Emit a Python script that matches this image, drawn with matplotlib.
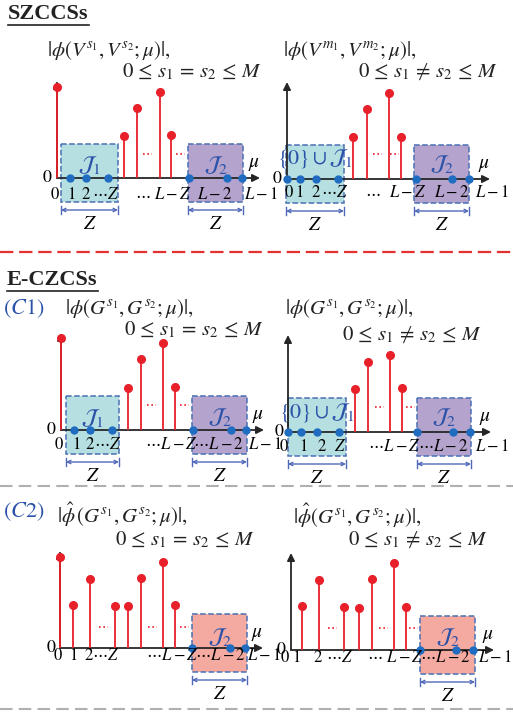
import numpy as np
import matplotlib.pyplot as plt
from matplotlib.patches import Rectangle

plt.rcParams['mathtext.fontset'] = 'stix'
plt.rcParams['font.family'] = ['STIXGeneral', 'DejaVu Sans']

### Data (px offsets from each panel's origin)
# stem offsets right of the y axis, and stem heights
tl_dx = [0, 67, 80, 103, 114]
tl_h = [91, 42, 70, 86, 43]
tr_dx = [66, 80, 102, 114]
tr_h = [42, 70, 86, 42]
ml_dx = [0, 67, 80, 102, 114]
ml_h = [92, 42, 71, 87, 43]
mr_dx = [67, 80, 102, 114]
mr_h = [43, 70, 77, 44]
bl_dx = [0, 13, 30, 55, 68, 81, 103, 115]
bl_h = [91, 43, 69, 42, 42, 70, 86, 43]
br_dx = [11, 28, 53, 68, 81, 103, 115]
br_h = [44, 70, 43, 42, 71, 87, 43]

# blue dots on the axis (zero-correlation positions)
left_dots = [13, 29, 51, 132, 170, 185]
right_dots = [0, 13, 29, 51, 129, 165, 182]
left_dots_c2 = [132, 170, 185]
right_dots_c2 = [129, 165, 182]

# red "..." between stems
ell_top = [86, 119]
ell_topr = [86, 103]
ell_c2 = [39, 88, 120]

# tick labels
tl_ticks = ['$0$', '$1$', '$2$', r'$\cdots Z$', r'$\cdots$', '$L-Z$', '$L-2$', '$L-1$']
tl_tdx = [-2, 14, 29, 49, 86, 116, 158, 204]
tr_ticks = ['$0$', '$1$', '$2$', r'$\cdots Z$', r'$\cdots$', '$L-Z$', '$L-2$', '$L-1$']
tr_tdx = [2, 12, 29, 48, 86, 121, 165, 205]
ml_ticks = ['$0$', '$1$', '$2$', r'$\cdots Z$', r'$\cdots L-Z$', r'$\cdots L-2$', '$L-1$']
ml_tdx = [-2, 15, 29, 47, 110, 157, 204]
mr_ticks = ['$0$', '$1$', '$2$', '$Z$', r'$\cdots L-Z\cdots$', '$L-2$', '$L-1$']
mr_tdx = [-4, 15, 34, 52, 113, 163, 204]
bl_ticks = ['$0$', '$1$', '$2$', r'$\cdots Z$', r'$\cdots L-Z$', r'$\cdots L-2$', '$L-1$']
bl_tdx = [-2, 13, 29, 46, 112, 160, 204]
br_ticks = ['$0$', '$1$', '$2$', r'$\cdots Z$', r'$\cdots\ L-Z$', r'$\cdots L-2$', '$L-1$']
br_tdx = [-6, 5, 27, 49, 104, 154, 204]

RED = '#e8202a'
BLUE = '#1f6cc0'
AX = '#262626'
TEAL = '#b5dfe0'
PURPLE = '#b4a3cc'
PINK = '#f5aaa1'
EDGE = '#4a70b5'
JCOL = '#2b52a8'
BRK = '#5068b8'

fig = plt.figure(figsize=(5.13, 7.13), dpi=100)
ax = fig.add_axes([0, 0, 1, 1])
ax.set_xlim(0, 513)
ax.set_ylim(713, 0)
ax.axis('off')


def arrow(x0, y0, x1, y1, color=AX, lw=1.3, style='-|>', ms=11):
    ax.annotate('', xy=(x1, y1), xytext=(x0, y0),
                arrowprops=dict(arrowstyle=style, color=color, lw=lw,
                                mutation_scale=ms, shrinkA=0, shrinkB=0), zorder=3)


def bracket(x0, x1, y):
    arrow(x0, y, x1, y, color=BRK, lw=1.0, style='<->', ms=6)
    ax.plot([x0, x0], [y - 4, y + 4], color=BRK, lw=1.0)
    ax.plot([x1, x1], [y - 4, y + 4], color=BRK, lw=1.0)


def box(x0, x1, y0, y1, fc, label, ly):
    ax.add_patch(Rectangle((x0, y0), x1 - x0, y1 - y0, facecolor=fc,
                           edgecolor=EDGE, ls='--', lw=1.1, zorder=1))
    ax.text((x0 + x1) / 2, ly, label, color=JCOL, fontsize=16,
            ha='center', va='center', zorder=2)


def panel(ox, oy, dx, h, dots, ell, ell_dy, ticks, tdx, tdy, boxes):
    for (x0, x1, fc, lab, ldy) in boxes:
        box(ox + x0, ox + x1, oy - 34, oy + 24, fc, lab, oy + ldy)
        bracket(ox + x0, ox + x1, oy + 32)
        ax.text(ox + (x0 + x1) / 2, oy + 46, '$Z$', fontsize=14,
                ha='center', va='center')
    arrow(ox, oy, ox + 203, oy)
    arrow(ox, oy, ox, oy - 97)
    ax.text(ox + 197, oy - 14, r'$\mu$', fontsize=14, ha='center', va='center')
    ax.text(ox - 4, oy, '$0$', fontsize=13, ha='right', va='center')
    xs = ox + np.array(dx)
    ax.vlines(xs, oy, oy - np.array(h), color=RED, lw=1.3, zorder=4)
    ax.plot(xs, oy - np.array(h), 'o', ms=5.5, color=RED, zorder=4)
    for e in ell:
        ax.plot([ox + e, ox + e + 9], [oy - ell_dy] * 2, color=RED, lw=1.2,
                ls=(0, (1, 1.6)), zorder=4)
    ax.plot(ox + np.array(dots), [oy] * len(dots), 'o', ms=5, color=BLUE, zorder=5)
    for lab, t in zip(ticks, tdx):
        ax.text(ox + t, oy + tdy, lab, fontsize=12, ha='center', va='center', zorder=6)


def title(x, y, s):
    t = ax.text(x, y, s, fontsize=16, fontweight='bold', family='Liberation Serif',
                ha='left', va='center', color='#222222')
    return t


def formula(x, y, s):
    ax.text(x, y, s, fontsize=15, va='center', color='#222222')


j1 = r'$\mathcal{J}_1$'
j2 = r'$\mathcal{J}_2$'
j01 = r'$\{0\}\cup\mathcal{J}_1$'
eq = r'$0\,\leq\,s_1\,=\,s_2\,\leq\,M$'
neq = r'$0\,\leq\,s_1\,\neq\,s_2\,\leq\,M$'

### SZCCSs
t1 = title(8, 14, 'SZCCSs')
formula(47, 50, r'$|\phi(V^{s_1},V^{s_2};\mu)|,$')
formula(122, 72, eq)
formula(283, 50, r'$|\phi(V^{m_1},V^{m_2};\mu)|,$')
formula(358, 72, neq)
panel(57, 178, tl_dx, tl_h, left_dots, ell_top, 24, tl_ticks, tl_tdx, 17,
      [(4, 61, TEAL, j1, -13), (131, 186, PURPLE, j2, -13)])
panel(287, 179, tr_dx, tr_h, right_dots, ell_topr, 25, tr_ticks, tr_tdx, 14,
      [(-1, 57, TEAL, j01, -21), (127, 182, PURPLE, j2, -15)])

ax.plot([0, 513], [252, 252], color='#e53030', lw=1.6, ls=(0, (6, 2.6)))

### E-CZCSs
t2 = title(7, 280, 'E-CZCSs')
ax.text(3, 309, '$(C1)$', fontsize=16, color=JCOL, va='center')
formula(65, 308, r'$|\phi(G^{s_1},G^{s_2};\mu)|,$')
formula(124, 330, eq)
formula(285, 308, r'$|\phi(G^{s_1},G^{s_2};\mu)|,$')
formula(342, 335, neq)
panel(61, 430, ml_dx, ml_h, left_dots, ell_top, 25, ml_ticks, ml_tdx, 15,
      [(5, 58, TEAL, j1, -12), (131, 186, PURPLE, j2, -13)])
panel(288, 432, mr_dx, mr_h, right_dots, [87, 118], 25, mr_ticks, mr_tdx, 15,
      [(0, 58, TEAL, j01, -20), (129, 183, PURPLE, j2, -15)])

ax.plot([0, 513], [486, 486], color='#b0b0b0', lw=1.5, ls=(0, (6, 3)))
ax.plot([0, 513], [709, 709], color='#b0b0b0', lw=1.5, ls=(0, (6, 3)))

ax.text(3, 512, '$(C2)$', fontsize=16, color=JCOL, va='center')
formula(57, 515, r'$|\hat{\phi}\,(G^{s_1},G^{s_2};\mu)|,$')
formula(115, 540, eq)
formula(293, 516, r'$|\hat{\phi}(G^{s_1},G^{s_2};\mu)|,$')
formula(348, 540, neq)
panel(60, 648, bl_dx, bl_h, left_dots_c2, ell_c2, 21, bl_ticks, bl_tdx, 8,
      [(132, 187, PINK, j2, -11)])
panel(291, 650, br_dx, br_h, right_dots_c2, [37, 88, 118], 22, br_ticks, br_tdx, 8,
      [(129, 184, PINK, j2, -13)])

# underline the section titles
fig.canvas.draw()
inv = ax.transData.inverted()
for t in (t1, t2):
    bb = t.get_window_extent()
    (x0, y0), (x1, y1) = inv.transform([(bb.x0, bb.y0), (bb.x1, bb.y1)])
    ax.plot([x0, x1], [max(y0, y1) + 1, max(y0, y1) + 1], color='#222222', lw=1.2)

fig.savefig('out.png', dpi=100)
